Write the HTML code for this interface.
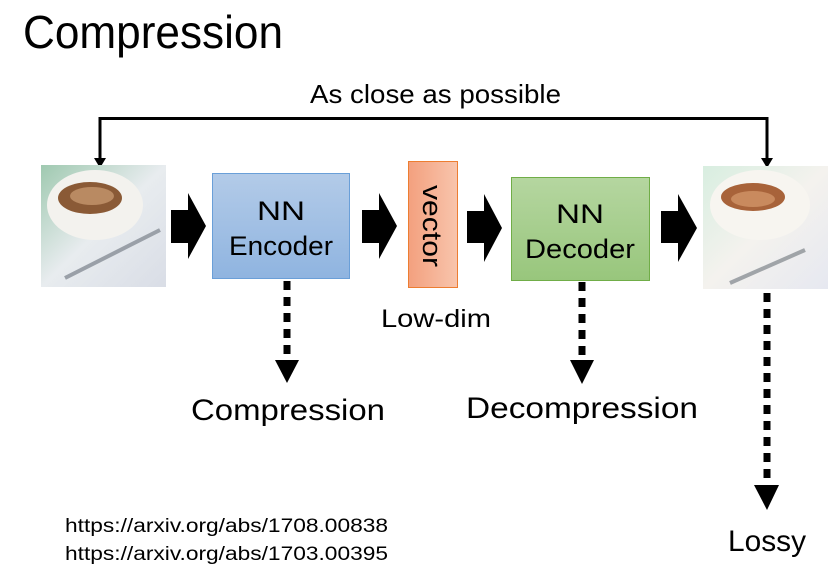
<!DOCTYPE html>
<html><head><meta charset="utf-8"><style>
html,body{margin:0;padding:0;background:#fff;}
svg{display:block;font-family:"Liberation Sans",sans-serif;}
</style></head><body>
<svg width="835" height="572" viewBox="0 0 835 572" xmlns="http://www.w3.org/2000/svg">
<defs>
<linearGradient id="gb" x1="0" y1="0" x2="0" y2="1"><stop offset="0" stop-color="#b3cbe8"/><stop offset="1" stop-color="#8fb4e0"/></linearGradient>
<linearGradient id="gg" x1="0" y1="0" x2="0" y2="1"><stop offset="0" stop-color="#b5d6a0"/><stop offset="1" stop-color="#98c67c"/></linearGradient>
<linearGradient id="go" x1="0" y1="0" x2="1" y2="0"><stop offset="0" stop-color="#f3a07e"/><stop offset="1" stop-color="#f8c5ad"/></linearGradient>
<linearGradient id="im1" x1="0" y1="0" x2="1" y2="1"><stop offset="0" stop-color="#9fc9b0"/><stop offset="0.5" stop-color="#e8ecef"/><stop offset="1" stop-color="#d9dde6"/></linearGradient>
<linearGradient id="im2" x1="0" y1="0" x2="1" y2="1"><stop offset="0" stop-color="#d8eee0"/><stop offset="0.5" stop-color="#f4f2ee"/><stop offset="1" stop-color="#e6e8f0"/></linearGradient>
</defs>
<text x="23" y="48" font-size="46" textLength="260" lengthAdjust="spacingAndGlyphs">Compression</text>
<text x="310" y="103" font-size="26" textLength="251" lengthAdjust="spacingAndGlyphs">As close as possible</text>
<polyline points="100,163 100,118.5 767,118.5 767,163" fill="none" stroke="#000" stroke-width="3"/>
<polygon points="94,158 106,158 100,168" fill="#000"/>
<polygon points="761,158 773,158 767,168" fill="#000"/>
<rect x="41" y="165" width="125" height="122" fill="url(#im1)"/>
<ellipse cx="95" cy="205" rx="48" ry="35" fill="#f3f2ee"/>
<ellipse cx="90" cy="198" rx="32" ry="16" fill="#8a5a36"/>
<ellipse cx="92" cy="196" rx="22" ry="9" fill="#b98a62"/>
<line x1="65" y1="278" x2="160" y2="230" stroke="#9aa0a8" stroke-width="4"/>
<rect x="703" y="166" width="125" height="123" fill="url(#im2)"/>
<ellipse cx="760" cy="205" rx="50" ry="35" fill="#f7f5f0"/>
<ellipse cx="753" cy="197" rx="32" ry="14" fill="#a8633a"/>
<ellipse cx="753" cy="199" rx="22" ry="8" fill="#c98a5e"/>
<line x1="730" y1="283" x2="805" y2="250" stroke="#a0a4a8" stroke-width="4"/>
<polygon points="171,210 188,210 188,193 206,226 188,259 188,243 171,243" fill="#000"/>
<polygon points="362,210 379,210 379,193 397,226 379,259 379,243 362,243" fill="#000"/>
<polygon points="467,211 484,211 484,194 502,228 484,262 484,243 467,243" fill="#000"/>
<polygon points="661,211 678,211 678,194 697,228 678,262 678,243 661,243" fill="#000"/>
<rect x="212.5" y="173.5" width="137" height="105" fill="url(#gb)" stroke="#6a9fd8" stroke-width="1"/>
<text x="281" y="220" font-size="27" text-anchor="middle" textLength="48" lengthAdjust="spacingAndGlyphs">NN</text>
<text x="281" y="255" font-size="27" text-anchor="middle" textLength="104" lengthAdjust="spacingAndGlyphs">Encoder</text>
<rect x="408.5" y="161.5" width="49" height="126" fill="url(#go)" stroke="#ed7d31" stroke-width="1"/>
<text transform="translate(423,226) rotate(90)" font-size="27" text-anchor="middle" textLength="82" lengthAdjust="spacingAndGlyphs">vector</text>
<rect x="511.5" y="177.5" width="138" height="103" fill="url(#gg)" stroke="#70ad47" stroke-width="1"/>
<text x="580" y="223" font-size="27" text-anchor="middle" textLength="48" lengthAdjust="spacingAndGlyphs">NN</text>
<text x="580" y="258" font-size="27" text-anchor="middle" textLength="110" lengthAdjust="spacingAndGlyphs">Decoder</text>
<text x="436" y="327" font-size="25" text-anchor="middle" textLength="110" lengthAdjust="spacingAndGlyphs">Low-dim</text>
<line x1="287" y1="281" x2="287" y2="356" stroke="#000" stroke-width="7" stroke-dasharray="9,7"/>
<polygon points="275,360 299,360 287,383" fill="#000"/>
<line x1="582" y1="282" x2="582" y2="356" stroke="#000" stroke-width="7" stroke-dasharray="9,7"/>
<polygon points="570,360 594,360 582,384" fill="#000"/>
<line x1="767" y1="293" x2="767" y2="484" stroke="#000" stroke-width="7" stroke-dasharray="9,7"/>
<polygon points="754,485 779,485 767,510" fill="#000"/>
<text x="288" y="420" font-size="30" text-anchor="middle" textLength="194" lengthAdjust="spacingAndGlyphs">Compression</text>
<text x="582" y="418" font-size="30" text-anchor="middle" textLength="232" lengthAdjust="spacingAndGlyphs">Decompression</text>
<text x="767" y="551" font-size="30" text-anchor="middle" textLength="78" lengthAdjust="spacingAndGlyphs">Lossy</text>
<text x="65" y="532" font-size="19" textLength="323" lengthAdjust="spacingAndGlyphs">https://arxiv.org/abs/1708.00838</text>
<text x="65" y="560" font-size="19" textLength="323" lengthAdjust="spacingAndGlyphs">https://arxiv.org/abs/1703.00395</text>
</svg>
</body></html>
